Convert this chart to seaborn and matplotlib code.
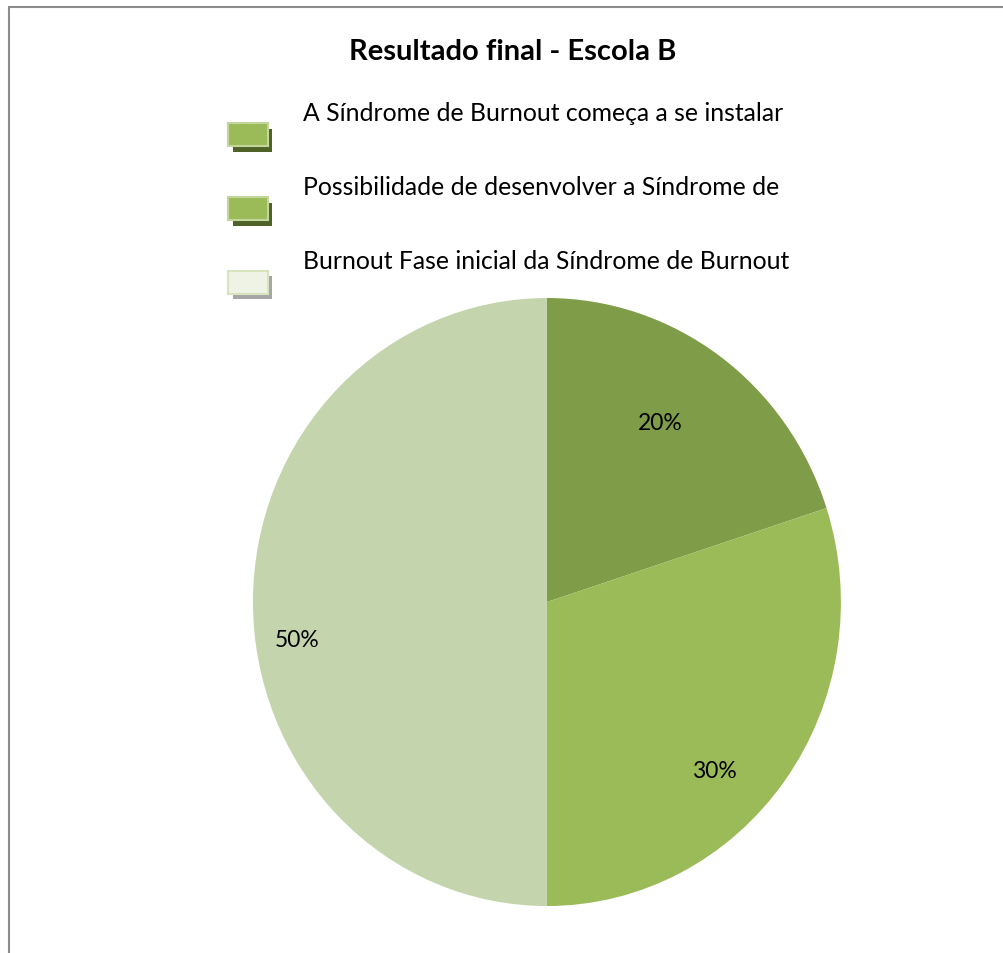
import matplotlib
matplotlib.use("Agg")
import matplotlib.pyplot as plt
import matplotlib.patheffects as pe
from matplotlib.patches import Patch, Rectangle
import seaborn as sns

# chart data
categories = [
    "A Síndrome de Burnout começa a se instalar",
    "Possibilidade de desenvolver a Síndrome de",
    "Burnout Fase inicial da Síndrome de Burnout",
]
shares = [20, 30, 50]
slice_colors = ["#7F9C48", "#9BBB59", "#C4D5AE"]
legend_fill = ["#9BBB59", "#9BBB59", "#EEF3E6"]
legend_edge = ["#C3D69B", "#C3D69B", "#D7E4BD"]
legend_shadow = ["#4F6228", "#4F6228", "#A6A6A6"]
title = "Resultado final - Escola B"

# where Excel put the percentage labels (radius = 1)
label_pos = [(0.384, 0.589), (0.568, -0.553), (-0.850, -0.122)]

sns.set_theme(style="white")
plt.rcParams["font.family"] = ["Lato", "DejaVu Sans"]
plt.rcParams["text.color"] = "black"

fig = plt.figure(figsize=(10.04, 9.54), dpi=100)

# outer frame of the chart area (only top/left visible)
fig.patches.append(Rectangle((9 / 1004, -0.2), 1.2, 0.2 + 946 / 954,
                             transform=fig.transFigure, fill=False,
                             edgecolor="#8C8C8C", linewidth=1.5))

ax = fig.add_axes([0.2373, 0.0333, 0.6149, 0.6692])
wedges, texts, autotexts = ax.pie(
    shares, colors=slice_colors, startangle=90, counterclock=False,
    autopct="%1.0f%%", pctdistance=0.7,
    textprops={"fontsize": 16.5, "color": "black"},
    wedgeprops={"linewidth": 0},
)
for t, (x, y) in zip(autotexts, label_pos):
    t.set_position((x, y))
ax.set_aspect("auto")
ax.set_xlim(-1.05, 1.05)
ax.set_ylim(-1.05, 1.05)
ax.axis("off")

fig.text(513 / 1004, 1 - 52 / 954, title, ha="center", va="center",
         fontsize=21, fontweight="bold", color="black")

handles = []
for fc, ec, sc in zip(legend_fill, legend_edge, legend_shadow):
    handles.append(Patch(facecolor=fc, edgecolor=ec, linewidth=1.5,
                         path_effects=[pe.withSimplePatchShadow(offset=(3, -4), shadow_rgbFace=sc, alpha=1)]))
leg = fig.legend(handles, [c + "\n" for c in categories],
                 loc="upper left", bbox_to_anchor=(216 / 1004, 1 - 90 / 954),
                 frameon=False, fontsize=17.8, borderpad=0, handlelength=1.6,
                 handleheight=1.05, handletextpad=1.4, labelspacing=0.35)
for t in leg.get_texts():
    t.set_linespacing(2.0)
    t.set_color("black")

fig.savefig("out.png", dpi=100)
